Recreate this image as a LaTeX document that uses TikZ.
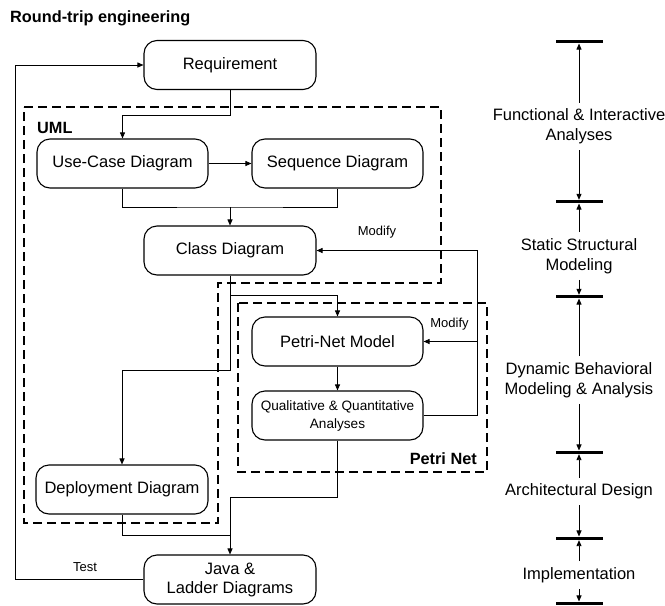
\documentclass[tikz,border=0pt]{standalone}
\usepackage{fontspec}
\setmainfont{Liberation Sans}
\usetikzlibrary{arrows.meta}
\begin{document}
\begin{tikzpicture}[x=1pt,y=-1pt,
  box/.style={draw, line width=1.1pt, rounded corners=13pt, minimum height=49pt,
    align=center, font=\fontsize{16.5}{19}\selectfont, inner sep=2pt},
  wide/.style={box, minimum width=172pt},
  narrow/.style={box, minimum width=171pt},
  link/.style={line width=0.9pt},
  arr/.style={link, -{Triangle[length=6pt,width=5pt]}},
  region/.style={line width=2.2pt, dash pattern=on 9pt off 5pt},
  tag/.style={font=\bfseries\fontsize{16.3}{19}\selectfont, inner sep=0pt},
  note/.style={font=\fontsize{13}{15}\selectfont, inner sep=0pt},
  phase/.style={align=center, font=\fontsize{16.5}{20}\selectfont, inner xsep=0pt, inner ysep=6pt},
  bar/.style={fill=black, minimum width=47pt, minimum height=3.3pt, inner sep=0pt}
]
\useasboundingbox (0,0) rectangle (665,606);

% title
\node[tag, anchor=west] (title) at (10,18) {Round-trip engineering};

% dashed groupings
\draw[region] (24,107) -- (441,107) -- (441,283) -- (218,283) -- (218,523) -- (24,523) -- cycle;
\draw[region] (238,303) rectangle (487,472);
\node[tag, anchor=west] (uml) at (37,127.5) {UML};
\node[tag, anchor=east] (pnet) at (477,459) {Petri Net};

% process boxes
\node[wide] (req) at (230,65) {Requirement};
\node[narrow] (uc) at (122.5,163.5) {Use-Case Diagram};
\node[narrow] (seq) at (337.5,163.5) {Sequence Diagram};
\node[wide] (cls) at (230,250.5) {Class Diagram};
\node[narrow] (pn) at (337.5,341.5) {Petri-Net Model};
\node[narrow, font=\fontsize{13.6}{18}\selectfont] (qa) at (337.5,415.5) {Qualitative \& Quantitative\\Analyses};
\node[wide] (dep) at (122,489.5) {Deployment Diagram};
\node[wide] (java) at (230,579.5) {Java \&\\Ladder Diagrams};

% junction points
\coordinate (j1) at (230,207);
\coordinate (j2) at (230,295.5);
\coordinate (j3) at (230,370);
\coordinate (j4) at (230,497.5);
\coordinate (j5) at (230,535);
\coordinate (fb) at (477,250.5);
\coordinate (tl) at (15,65);

% connectors
\draw[arr] (req.south) -- ++(0,25) -| (uc.north);
\draw[arr] (uc.east) -- (seq.west);
\draw[link] (uc.south) |- (j1) -| (seq.south);
\draw[arr] (j1) -- (cls.north);
\draw[arr] (cls.south) -- (j2) -| (pn.north);
\draw[arr] (j2) -- (j3) -| (dep.north);
\draw[arr] (pn.south) -- (qa.north);
\draw[arr] (qa.east) -| (fb) -- (cls.east);
\draw[arr] (pn.east -| fb) -- (pn.east);
\draw[link] (qa.south) |- (j4);
\draw[link] (dep.south) |- (j5);
\draw[arr] (j4) -- (java.north);
\draw[arr] (java.west) -| (tl) -- (req.west);

% connector labels
\node[note] (mod1) at (377,232.5) {Modify};
\node[note] (mod2) at (449.5,324) {Modify};
\node[note] (test) at (85,567.5) {Test};

% phase scale
\node[bar] (b1) at (579,41.7) {};
\node[bar] (b2) at (579,201.7) {};
\node[bar] (b3) at (579,296.7) {};
\node[bar] (b4) at (579,452.3) {};
\node[bar] (b5) at (579,538.3) {};
\node[bar] (b6) at (579,603.3) {};

\node[phase] (p1) at (579,126.5) {Functional \& Interactive\\Analyses};
\node[phase] (p2) at (579,256) {Static Structural\\Modeling};
\node[phase] (p3) at (579,380) {Dynamic Behavioral\\Modeling \& Analysis};
\node[phase] (p4) at (579,491.5) {Architectural Design};
\node[phase] (p5) at (579,575) {Implementation};

\foreach \p/\u/\d in {p1/b1/b2, p2/b2/b3, p3/b3/b4, p4/b4/b5, p5/b5/b6} {
  \draw[arr] (\p.north) -- (\p.north |- \u.south);
  \draw[arr] (\p.south) -- (\p.south |- \d.north);
}
\end{tikzpicture}
\end{document}
